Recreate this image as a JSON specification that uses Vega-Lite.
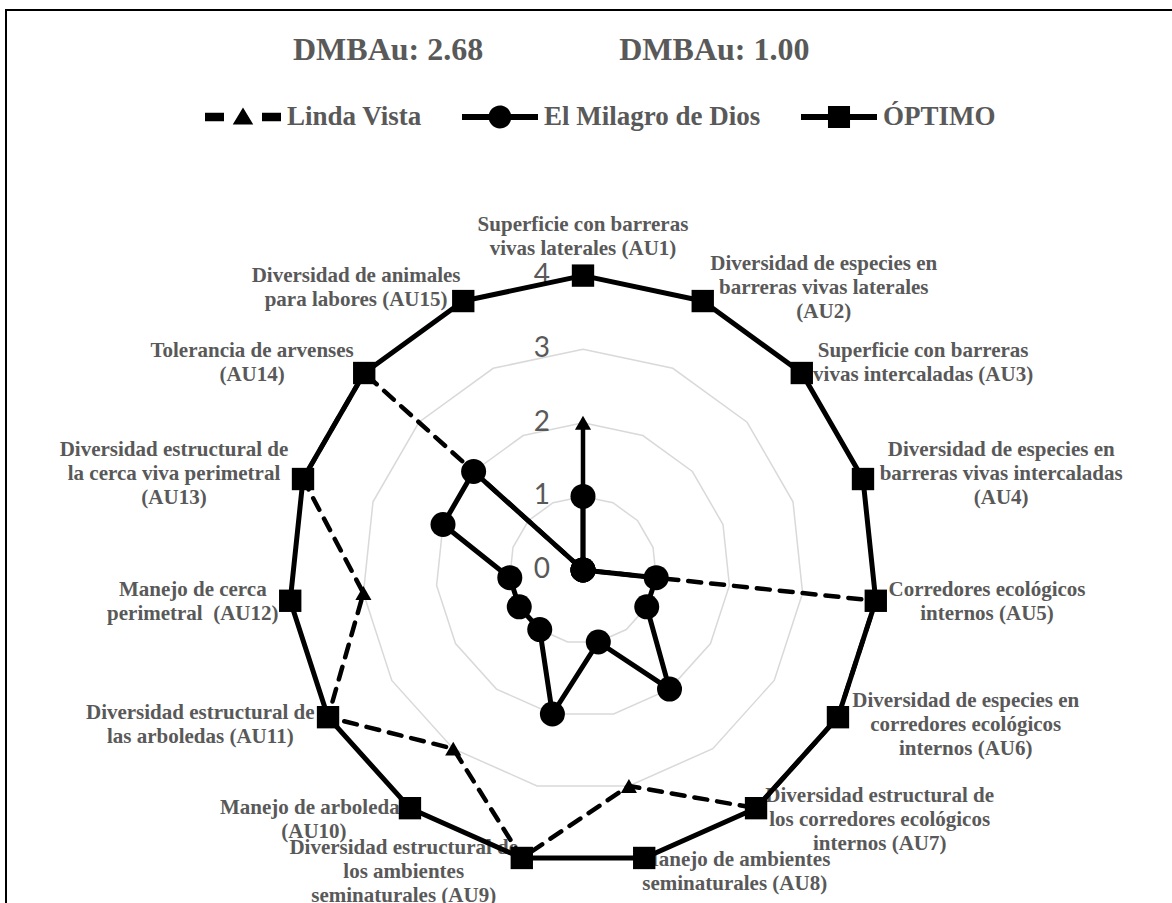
{
  "$schema": "https://vega.github.io/schema/vega-lite/v6.json",
  "width": 1200,
  "height": 950,
  "autosize": {"type": "none"},
  "padding": {"left": 6, "top": 10, "right": 0, "bottom": 0},
  "background": "white",
  "config": {
    "view": {"stroke": "#000000", "strokeWidth": 2},
    "text": {"font": "Liberation Serif"}
  },
  "title": {
    "text": "DMBAu: 2.68\u00a0\u00a0\u00a0\u00a0\u00a0\u00a0\u00a0\u00a0\u00a0\u00a0\u00a0\u00a0\u00a0\u00a0\u00a0\u00a0\u00a0DMBAu: 1.00",
    "anchor": "start",
    "frame": "group",
    "orient": "top",
    "offset": 0,
    "dx": 287,
    "dy": 57,
    "font": "Liberation Serif",
    "fontWeight": "bold",
    "fontSize": 32,
    "color": "#595959"
  },
  "datasets": {
    "ejes": [
      {"eje": "AU1", "etiqueta": ["Superficie con barreras", "vivas laterales (AU1)"]},
      {"eje": "AU2", "etiqueta": ["Diversidad de especies en", "barreras vivas laterales", "(AU2)"]},
      {"eje": "AU3", "etiqueta": ["Superficie con barreras", "vivas intercaladas (AU3)"]},
      {"eje": "AU4", "etiqueta": ["Diversidad de especies en", "barreras vivas intercaladas", "(AU4)"]},
      {"eje": "AU5", "etiqueta": ["Corredores ecológicos", "internos (AU5)"]},
      {"eje": "AU6", "etiqueta": ["Diversidad de especies en", "corredores ecológicos", "internos (AU6)"]},
      {"eje": "AU7", "etiqueta": ["Diversidad estructural de", "los corredores ecológicos", "internos (AU7)"]},
      {"eje": "AU8", "etiqueta": ["Manejo de ambientes", "seminaturales (AU8)"]},
      {"eje": "AU9", "etiqueta": ["Diversidad estructural de", "los ambientes", "seminaturales (AU9)"]},
      {"eje": "AU10", "etiqueta": ["Manejo de arboledas", "(AU10)"]},
      {"eje": "AU11", "etiqueta": ["Diversidad estructural de", "las arboledas (AU11)"]},
      {"eje": "AU12", "etiqueta": ["Manejo de cerca", "perimetral\u00a0\u00a0(AU12)"]},
      {"eje": "AU13", "etiqueta": ["Diversidad estructural de", "la cerca viva perimetral", "(AU13)"]},
      {"eje": "AU14", "etiqueta": ["Tolerancia de arvenses", "(AU14)"]},
      {"eje": "AU15", "etiqueta": ["Diversidad de animales", "para labores (AU15)"]}
    ],
    "valores": [
      {"serie": "Linda Vista", "eje": "AU1", "valor": 2},
      {"serie": "Linda Vista", "eje": "AU2", "valor": 0},
      {"serie": "Linda Vista", "eje": "AU3", "valor": 0},
      {"serie": "Linda Vista", "eje": "AU4", "valor": 0},
      {"serie": "Linda Vista", "eje": "AU5", "valor": 4},
      {"serie": "Linda Vista", "eje": "AU6", "valor": 4},
      {"serie": "Linda Vista", "eje": "AU7", "valor": 4},
      {"serie": "Linda Vista", "eje": "AU8", "valor": 3},
      {"serie": "Linda Vista", "eje": "AU9", "valor": 4},
      {"serie": "Linda Vista", "eje": "AU10", "valor": 3},
      {"serie": "Linda Vista", "eje": "AU11", "valor": 4},
      {"serie": "Linda Vista", "eje": "AU12", "valor": 3},
      {"serie": "Linda Vista", "eje": "AU13", "valor": 4},
      {"serie": "Linda Vista", "eje": "AU14", "valor": 4},
      {"serie": "Linda Vista", "eje": "AU15", "valor": 0},
      {"serie": "El Milagro de Dios", "eje": "AU1", "valor": 1},
      {"serie": "El Milagro de Dios", "eje": "AU2", "valor": 0},
      {"serie": "El Milagro de Dios", "eje": "AU3", "valor": 0},
      {"serie": "El Milagro de Dios", "eje": "AU4", "valor": 0},
      {"serie": "El Milagro de Dios", "eje": "AU5", "valor": 1},
      {"serie": "El Milagro de Dios", "eje": "AU6", "valor": 1},
      {"serie": "El Milagro de Dios", "eje": "AU7", "valor": 2},
      {"serie": "El Milagro de Dios", "eje": "AU8", "valor": 1},
      {"serie": "El Milagro de Dios", "eje": "AU9", "valor": 2},
      {"serie": "El Milagro de Dios", "eje": "AU10", "valor": 1},
      {"serie": "El Milagro de Dios", "eje": "AU11", "valor": 1},
      {"serie": "El Milagro de Dios", "eje": "AU12", "valor": 1},
      {"serie": "El Milagro de Dios", "eje": "AU13", "valor": 2},
      {"serie": "El Milagro de Dios", "eje": "AU14", "valor": 2},
      {"serie": "El Milagro de Dios", "eje": "AU15", "valor": 0},
      {"serie": "ÓPTIMO", "eje": "AU1", "valor": 4},
      {"serie": "ÓPTIMO", "eje": "AU2", "valor": 4},
      {"serie": "ÓPTIMO", "eje": "AU3", "valor": 4},
      {"serie": "ÓPTIMO", "eje": "AU4", "valor": 4},
      {"serie": "ÓPTIMO", "eje": "AU5", "valor": 4},
      {"serie": "ÓPTIMO", "eje": "AU6", "valor": 4},
      {"serie": "ÓPTIMO", "eje": "AU7", "valor": 4},
      {"serie": "ÓPTIMO", "eje": "AU8", "valor": 4},
      {"serie": "ÓPTIMO", "eje": "AU9", "valor": 4},
      {"serie": "ÓPTIMO", "eje": "AU10", "valor": 4},
      {"serie": "ÓPTIMO", "eje": "AU11", "valor": 4},
      {"serie": "ÓPTIMO", "eje": "AU12", "valor": 4},
      {"serie": "ÓPTIMO", "eje": "AU13", "valor": 4},
      {"serie": "ÓPTIMO", "eje": "AU14", "valor": 4},
      {"serie": "ÓPTIMO", "eje": "AU15", "valor": 4}
    ]
  },
  "layer": [
    {
      "data": {"name": "ejes"},
      "transform": [
        {"calculate": "(toNumber(substring(datum.eje, 2)) - 1) * 2 * PI / 15", "as": "ang"},
        {"calculate": "[1, 2, 3, 4]", "as": "nivel"},
        {"flatten": ["nivel"]},
        {"calculate": "datum.nivel * sin(datum.ang)", "as": "px"},
        {"calculate": "datum.nivel * cos(datum.ang)", "as": "py"}
      ],
      "mark": {"type": "line", "interpolate": "linear-closed", "stroke": "#d9d9d9", "strokeWidth": 1.5},
      "encoding": {
        "x": {"field": "px", "type": "quantitative", "axis": null, "scale": {"domain": [-7.83967, 8.46468], "nice": false, "zero": false}},
        "y": {"field": "py", "type": "quantitative", "axis": null, "scale": {"domain": [-5.29891, 7.6087], "nice": false, "zero": false}},
        "detail": {"field": "nivel", "type": "nominal"},
        "order": {"field": "ang", "type": "quantitative"}
      }
    },
    {
      "data": {"name": "ejes"},
      "transform": [
        {"calculate": "(toNumber(substring(datum.eje, 2)) - 1) * 2 * PI / 15", "as": "ang"},
        {"calculate": "sin(datum.ang)", "as": "s"},
        {"calculate": "cos(datum.ang)", "as": "c"},
        {"calculate": "length(datum.etiqueta)", "as": "n"},
        {"calculate": "max(length(datum.etiqueta[0]), length(datum.etiqueta[1] || ''), length(datum.etiqueta[2] || ''))", "as": "maxlen"},
        {"calculate": "4.2 * datum.s + (abs(datum.s) < 0.1 ? 0 : (datum.s > 0 ? 1 : -1) * datum.maxlen * 9.2 / 2 / 73.6)", "as": "px"},
        {"calculate": "4.2 * datum.c + (abs(datum.s) < 0.1 ? (datum.c > 0 ? 1 : -1) * datum.n * 24 / 2 / 73.6 : 0) + (datum.n - 1) * 12 / 73.6", "as": "py"}
      ],
      "mark": {"type": "text", "font": "Liberation Serif", "fontWeight": "bold", "fontSize": 21, "lineHeight": 24, "color": "#595959", "align": "center", "baseline": "middle"},
      "encoding": {
        "x": {"field": "px", "type": "quantitative", "axis": null, "scale": {"domain": [-7.83967, 8.46468], "nice": false, "zero": false}},
        "y": {"field": "py", "type": "quantitative", "axis": null, "scale": {"domain": [-5.29891, 7.6087], "nice": false, "zero": false}},
        "text": {"field": "etiqueta", "type": "nominal"}
      }
    },
    {
      "data": {"name": "ejes"},
      "transform": [
        {"filter": "datum.eje == 'AU1'"},
        {"calculate": "[0, 1, 2, 3, 4]", "as": "nivel"},
        {"flatten": ["nivel"]},
        {"calculate": "0", "as": "px"},
        {"calculate": "datum.nivel", "as": "py"}
      ],
      "mark": {"type": "text", "font": "Lato", "fontSize": 28, "color": "#595959", "align": "right", "baseline": "middle", "dx": -33},
      "encoding": {
        "x": {"field": "px", "type": "quantitative", "axis": null, "scale": {"domain": [-7.83967, 8.46468], "nice": false, "zero": false}},
        "y": {"field": "py", "type": "quantitative", "axis": null, "scale": {"domain": [-5.29891, 7.6087], "nice": false, "zero": false}},
        "text": {"field": "nivel", "type": "quantitative", "format": "d"}
      }
    },
    {
      "data": {"name": "valores"},
      "transform": [
        {"filter": "datum.serie == 'Linda Vista'"},
        {"calculate": "(toNumber(substring(datum.eje, 2)) - 1) * 2 * PI / 15", "as": "ang"},
        {"calculate": "datum.valor * sin(datum.ang)", "as": "px"},
        {"calculate": "datum.valor * cos(datum.ang)", "as": "py"}
      ],
      "mark": {"type": "line", "interpolate": "linear-closed", "stroke": "#000000", "strokeWidth": 4.5, "strokeDash": [13, 10], "strokeCap": "round", "strokeJoin": "round"},
      "encoding": {
        "x": {"field": "px", "type": "quantitative", "axis": null, "scale": {"domain": [-7.83967, 8.46468], "nice": false, "zero": false}},
        "y": {"field": "py", "type": "quantitative", "axis": null, "scale": {"domain": [-5.29891, 7.6087], "nice": false, "zero": false}},
        "order": {"field": "ang", "type": "quantitative"}
      }
    },
    {
      "data": {"name": "valores"},
      "transform": [
        {"filter": "datum.serie == 'Linda Vista'"},
        {"calculate": "(toNumber(substring(datum.eje, 2)) - 1) * 2 * PI / 15", "as": "ang"},
        {"calculate": "datum.valor * sin(datum.ang)", "as": "px"},
        {"calculate": "datum.valor * cos(datum.ang)", "as": "py"}
      ],
      "mark": {"type": "point", "shape": "triangle-up", "size": 260, "filled": true, "color": "#000000", "opacity": 1, "strokeWidth": 0},
      "encoding": {
        "x": {"field": "px", "type": "quantitative", "axis": null, "scale": {"domain": [-7.83967, 8.46468], "nice": false, "zero": false}},
        "y": {"field": "py", "type": "quantitative", "axis": null, "scale": {"domain": [-5.29891, 7.6087], "nice": false, "zero": false}}
      }
    },
    {
      "data": {"name": "valores"},
      "transform": [
        {"filter": "datum.serie == 'El Milagro de Dios'"},
        {"calculate": "(toNumber(substring(datum.eje, 2)) - 1) * 2 * PI / 15", "as": "ang"},
        {"calculate": "datum.valor * sin(datum.ang)", "as": "px"},
        {"calculate": "datum.valor * cos(datum.ang)", "as": "py"}
      ],
      "mark": {"type": "line", "interpolate": "linear-closed", "stroke": "#000000", "strokeWidth": 5, "strokeJoin": "round"},
      "encoding": {
        "x": {"field": "px", "type": "quantitative", "axis": null, "scale": {"domain": [-7.83967, 8.46468], "nice": false, "zero": false}},
        "y": {"field": "py", "type": "quantitative", "axis": null, "scale": {"domain": [-5.29891, 7.6087], "nice": false, "zero": false}},
        "order": {"field": "ang", "type": "quantitative"}
      }
    },
    {
      "data": {"name": "valores"},
      "transform": [
        {"filter": "datum.serie == 'El Milagro de Dios'"},
        {"calculate": "(toNumber(substring(datum.eje, 2)) - 1) * 2 * PI / 15", "as": "ang"},
        {"calculate": "datum.valor * sin(datum.ang)", "as": "px"},
        {"calculate": "datum.valor * cos(datum.ang)", "as": "py"}
      ],
      "mark": {"type": "point", "shape": "circle", "size": 625, "filled": true, "color": "#000000", "opacity": 1, "strokeWidth": 0},
      "encoding": {
        "x": {"field": "px", "type": "quantitative", "axis": null, "scale": {"domain": [-7.83967, 8.46468], "nice": false, "zero": false}},
        "y": {"field": "py", "type": "quantitative", "axis": null, "scale": {"domain": [-5.29891, 7.6087], "nice": false, "zero": false}}
      }
    },
    {
      "data": {"name": "valores"},
      "transform": [
        {"filter": "datum.serie == 'ÓPTIMO'"},
        {"calculate": "(toNumber(substring(datum.eje, 2)) - 1) * 2 * PI / 15", "as": "ang"},
        {"calculate": "datum.valor * sin(datum.ang)", "as": "px"},
        {"calculate": "datum.valor * cos(datum.ang)", "as": "py"}
      ],
      "mark": {"type": "line", "interpolate": "linear-closed", "stroke": "#000000", "strokeWidth": 5, "strokeJoin": "round"},
      "encoding": {
        "x": {"field": "px", "type": "quantitative", "axis": null, "scale": {"domain": [-7.83967, 8.46468], "nice": false, "zero": false}},
        "y": {"field": "py", "type": "quantitative", "axis": null, "scale": {"domain": [-5.29891, 7.6087], "nice": false, "zero": false}},
        "order": {"field": "ang", "type": "quantitative"}
      }
    },
    {
      "data": {"name": "valores"},
      "transform": [
        {"filter": "datum.serie == 'ÓPTIMO'"},
        {"calculate": "(toNumber(substring(datum.eje, 2)) - 1) * 2 * PI / 15", "as": "ang"},
        {"calculate": "datum.valor * sin(datum.ang)", "as": "px"},
        {"calculate": "datum.valor * cos(datum.ang)", "as": "py"}
      ],
      "mark": {"type": "point", "shape": "square", "size": 500, "filled": true, "color": "#000000", "opacity": 1, "strokeWidth": 0},
      "encoding": {
        "x": {"field": "px", "type": "quantitative", "axis": null, "scale": {"domain": [-7.83967, 8.46468], "nice": false, "zero": false}},
        "y": {"field": "py", "type": "quantitative", "axis": null, "scale": {"domain": [-5.29891, 7.6087], "nice": false, "zero": false}}
      }
    },
    {
      "data": {"name": "valores"},
      "transform": [
        {"filter": "datum.valor > 100"}
      ],
      "mark": {"type": "point", "filled": true, "color": "#000000", "opacity": 1, "strokeWidth": 0},
      "encoding": {
        "x": {"field": "valor", "type": "quantitative", "axis": null, "scale": {"domain": [-7.83967, 8.46468], "nice": false, "zero": false}},
        "y": {"field": "valor", "type": "quantitative", "axis": null, "scale": {"domain": [-5.29891, 7.6087], "nice": false, "zero": false}},
        "shape": {
          "field": "serie",
          "type": "nominal",
          "scale": {
            "domain": ["Linda Vista", "El Milagro de Dios", "ÓPTIMO"],
            "range": [
              "M-1,-0.11H-0.5V0.11H-1Z M0.5,-0.11H1V0.11H0.5Z M0,-0.25L0.27,0.2L-0.27,0.2Z",
              "M-1,-0.08H1V0.08H-1Z M-0.3,0A0.3,0.3 0 1,1 0.3,0A0.3,0.3 0 1,1 -0.3,0Z",
              "M-1,-0.08H1V0.08H-1Z M-0.29,-0.29H0.29V0.29H-0.29Z"
            ]
          },
          "legend": {
            "orient": "none",
            "legendX": 199,
            "legendY": 69,
            "direction": "horizontal",
            "title": null,
            "padding": 0,
            "symbolSize": 5776,
            "symbolStrokeWidth": 0,
            "symbolOpacity": 1,
            "symbolFillColor": "#000000",
            "labelFont": "Liberation Serif",
            "labelFontWeight": "bold",
            "labelFontSize": 27,
            "labelColor": "#595959",
            "labelOffset": 6,
            "labelLimit": 400,
            "columnPadding": 40
          }
        }
      }
    }
  ]
}
